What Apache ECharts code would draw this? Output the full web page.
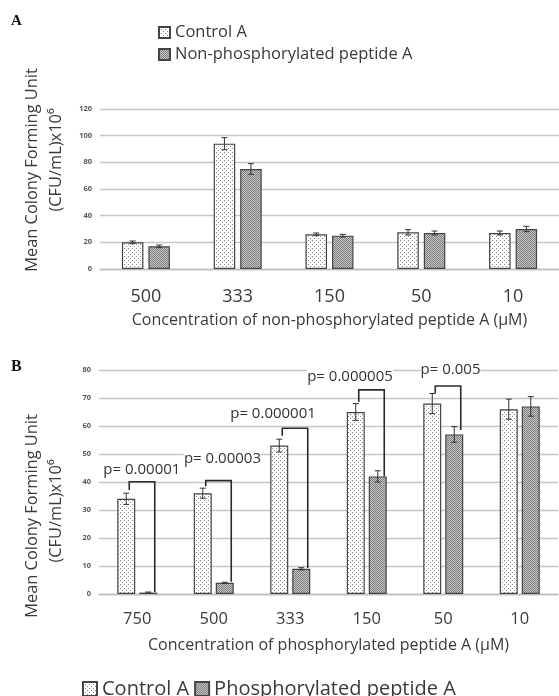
<!DOCTYPE html>
<html>
<head>
<meta charset="utf-8">
<script src="https://cdn.jsdelivr.net/npm/echarts@6/dist/echarts.min.js"></script>
<style>
html,body{margin:0;padding:0;background:#fff;}
#chart{width:559px;height:696px;}
</style>
</head>
<body>
<div id="chart"></div>
<script>
// ---- Data: panel A ----
const CATS_A = ['500', '333', '150', '50', '10'];
const CONTROL_A = [20, 94, 26, 27.5, 27];
const CONTROL_A_ERR = [1, 4.5, 1, 2, 1.5];
const PEPTIDE_A = [17, 75, 25, 27, 30];
const PEPTIDE_A_ERR = [1, 4, 1, 1.5, 2];
const YTICKS_A = { min: 0, max: 120, interval: 20 };

// ---- Data: panel B ----
const CATS_B = ['750', '500', '333', '150', '50', '10'];
const CONTROL_B = [34, 36, 53, 65, 68, 66];
const CONTROL_B_ERR = [2, 1.8, 2.3, 3, 3.6, 3.6];
const PEPTIDE_B = [0.5, 4, 9, 42, 57, 67];
const PEPTIDE_B_ERR = [0.2, 0.2, 0.4, 2, 2.8, 3.5];
const YTICKS_B = { min: 0, max: 80, interval: 10 };

// significance brackets (panel B): category index, top, left foot, right foot
const BR_IDX = [0, 1, 2, 3, 4];
const BR_TOP = [40.1, 40.5, 59.2, 72.9, 74.3];
const BR_LEFT = [37.1, 38.5, 56.5, 68.6, 71.6];
const BR_RIGHT = [0.7, 4.4, 9.3, 42, 58.6];
const P_TEXT = ['p= 0.00001', 'p= 0.00003', 'p= 0.000001', 'p= 0.000005', 'p= 0.005'];
const P_Y = [44.5, 48.2, 64.5, 77.6, 80];
const P_DX = [0.06, 0.114, -0.225, -0.219, 0.095];

const NAME_CTRL = 'Control A';
const NAME_NONP = 'Non-phosphorylated peptide A';
const NAME_PHOS = 'Phosphorylated peptide A';

// ---- styling constants ----
const FONT = '"Open Sans", "Noto Sans", sans-serif';
const TXT = '#3a3a3a';
const BAR_A = 21.5, GAP_A = 5;
const BAR_B = 18, GAP_B = 4;

function makePattern(kind) {
  const c = document.createElement('canvas');
  if (kind === 'dots') {
    c.width = 4; c.height = 4;
    const g = c.getContext('2d');
    g.fillStyle = '#ffffff'; g.fillRect(0, 0, 4, 4);
    g.fillStyle = '#8a8a8a';
    g.fillRect(0, 0, 1, 1); g.fillRect(2, 2, 1, 1);
  } else {
    c.width = 2; c.height = 2;
    const g = c.getContext('2d');
    g.fillStyle = '#c4c4c4'; g.fillRect(0, 0, 2, 2);
    g.fillStyle = '#808080';
    g.fillRect(0, 0, 1, 1); g.fillRect(1, 1, 1, 1);
  }
  return { image: c, repeat: 'repeat' };
}
const PAT_CTRL = makePattern('dots');
const PAT_PEP = makePattern('checker');

function barSeries(name, data, xi, pat, bw, gap) {
  return {
    type: 'bar', name: name, data: data, xAxisIndex: xi, yAxisIndex: xi,
    barWidth: bw, barGap: (gap / bw * 100) + '%',
    itemStyle: { color: pat, borderColor: '#444', borderWidth: 1.2 },
    emphasis: { disabled: true }, animation: false
  };
}

function errSeries(vals, errs, xi, shift, bw, gap) {
  return {
    type: 'custom', xAxisIndex: xi, yAxisIndex: xi, z: 5, animation: false, silent: true,
    data: vals.map((v, i) => [i, v, errs[i]]),
    renderItem: function (params, api) {
      const i = api.value(0), v = api.value(1), e = api.value(2);
      const c = api.coord([i, v]);
      const hi = api.coord([i, v + e]);
      const lo = api.coord([i, v - e]);
      const x = c[0] + shift * (bw + gap) / 2;
      const cap = 3;
      const st = { stroke: '#333', lineWidth: 1 };
      return {
        type: 'group', children: [
          { type: 'line', shape: { x1: x, y1: hi[1], x2: x, y2: lo[1] }, style: st },
          { type: 'line', shape: { x1: x - cap, y1: hi[1], x2: x + cap, y2: hi[1] }, style: st },
          { type: 'line', shape: { x1: x - cap, y1: lo[1], x2: x + cap, y2: lo[1] }, style: st }
        ]
      };
    }
  };
}

const bracketSeries = {
  type: 'custom', xAxisIndex: 1, yAxisIndex: 1, z: 6, animation: false, silent: true,
  data: BR_IDX.map((c, k) => [c, BR_TOP[k], BR_LEFT[k], BR_RIGHT[k]]),
  renderItem: function (params, api) {
    const i = api.value(0);
    const top = api.coord([i, api.value(1)]);
    const lb = api.coord([i, api.value(2)]);
    const rb = api.coord([i, api.value(3)]);
    const off = (BAR_B + GAP_B) / 2;
    const xl = top[0] - off + 3;
    const xr = top[0] + off + 6.5;
    return {
      type: 'polyline',
      shape: { points: [[xl, lb[1]], [xl, top[1]], [xr, top[1]], [xr, rb[1]]] },
      style: { stroke: '#2a2a2a', lineWidth: 1.6, fill: null }
    };
  }
};

const pLabelSeries = {
  type: 'custom', xAxisIndex: 1, yAxisIndex: 1, z: 7, animation: false, silent: true,
  data: BR_IDX.map((c, k) => [c, P_Y[k], P_DX[k], k]),
  renderItem: function (params, api) {
    const i = api.value(0);
    const p = api.coord([i, api.value(1)]);
    const cw = api.size([1, 0])[0];
    const k = api.value(3);
    return {
      type: 'text',
      style: {
        x: p[0] + api.value(2) * cw, y: p[1],
        text: P_TEXT[k], fill: '#333', font: '15px ' + FONT,
        align: 'center', verticalAlign: 'middle', backgroundColor: '#fff'
      }
    };
  }
};

function yAxisCfg(gi, t) {
  return {
    type: 'value', gridIndex: gi, min: t.min, max: t.max, interval: t.interval,
    axisLine: { show: false }, axisTick: { show: false },
    axisLabel: { fontSize: 7.5, fontWeight: 'bold', color: '#555', fontFamily: FONT, margin: 8 },
    splitLine: { lineStyle: { color: '#c6c6c6', width: 1.4 } }
  };
}
function xAxisCfg(gi, cats, name, fs, margin) {
  return {
    type: 'category', gridIndex: gi, data: cats,
    axisLine: { lineStyle: { color: '#bdbdbd', width: 1.4 } },
    axisTick: { show: false },
    axisLabel: { fontSize: fs, color: TXT, fontFamily: FONT, margin: margin },
    name: name, nameLocation: 'middle', nameGap: 43,
    nameTextStyle: { fontSize: 16, color: TXT, fontFamily: FONT }
  };
}

function yTitle(x, y, text) {
  return {
    type: 'text', x: x, y: y, rotation: Math.PI / 2, silent: true,
    style: { text: text, fill: TXT, font: '16.4px ' + FONT, align: 'center', verticalAlign: 'middle' }
  };
}

const chart = echarts.init(document.getElementById('chart'), null, { renderer: 'canvas' });
chart.setOption({
  backgroundColor: '#fff',
  animation: false,
  grid: [
    { left: 100, right: 0, top: 109, bottom: 427 },
    { left: 99, right: 1, top: 370, bottom: 102 }
  ],
  legend: [
    {
      data: [NAME_CTRL, NAME_NONP], orient: 'vertical', left: 158, top: 24, padding: 0,
      itemWidth: 11, itemHeight: 11, itemGap: 5, selectedMode: false, icon: 'rect',
      textStyle: { fontSize: 16.5, color: TXT, fontFamily: FONT }
    },
    {
      data: [NAME_CTRL, NAME_PHOS], orient: 'horizontal', left: 82, top: 679, padding: 0,
      itemWidth: 14, itemHeight: 14, itemGap: 5, selectedMode: false, icon: 'rect',
      textStyle: { fontSize: 20, color: TXT, fontFamily: FONT }
    }
  ],
  xAxis: [
    xAxisCfg(0, CATS_A, 'Concentration of non-phosphorylated peptide A (\u00b5M)', 18, 19),
    xAxisCfg(1, CATS_B, 'Concentration of phosphorylated peptide A (\u00b5M)', 16.5, 17)
  ],
  yAxis: [yAxisCfg(0, YTICKS_A), yAxisCfg(1, YTICKS_B)],
  series: [
    barSeries(NAME_CTRL, CONTROL_A, 0, PAT_CTRL, BAR_A, GAP_A),
    barSeries(NAME_NONP, PEPTIDE_A, 0, PAT_PEP, BAR_A, GAP_A),
    errSeries(CONTROL_A, CONTROL_A_ERR, 0, -1, BAR_A, GAP_A),
    errSeries(PEPTIDE_A, PEPTIDE_A_ERR, 0, 1, BAR_A, GAP_A),
    barSeries(NAME_CTRL, CONTROL_B, 1, PAT_CTRL, BAR_B, GAP_B),
    barSeries(NAME_PHOS, PEPTIDE_B, 1, PAT_PEP, BAR_B, GAP_B),
    errSeries(CONTROL_B, CONTROL_B_ERR, 1, -1, BAR_B, GAP_B),
    errSeries(PEPTIDE_B, PEPTIDE_B_ERR, 1, 1, BAR_B, GAP_B),
    bracketSeries,
    pLabelSeries
  ],
  graphic: [
    { type: 'text', left: 11, top: 14, silent: true,
      style: { text: 'A', fill: '#111', font: 'bold 15px "Liberation Serif", serif' } },
    { type: 'text', left: 11, top: 359, silent: true,
      style: { text: 'B', fill: '#111', font: 'bold 16px "Liberation Serif", serif' } },
    yTitle(32, 170, 'Mean Colony Forming Unit'),
    yTitle(56, 160, '(CFU/mL)x10\u2076'),
    yTitle(32, 516, 'Mean Colony Forming Unit'),
    yTitle(56, 511, '(CFU/mL)x10\u2076')
  ]
});
</script>
</body>
</html>
